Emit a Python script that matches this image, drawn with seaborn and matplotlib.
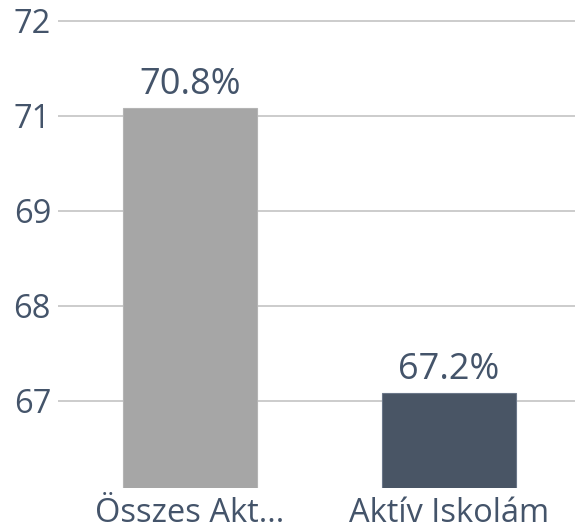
import matplotlib
matplotlib.use("Agg")
import matplotlib.pyplot as plt
import seaborn as sns
import pandas as pd

# adatok
categories = ["Összes Akt...", "Aktív Iskolám"]
values = [70.8, 67.2]
bar_colors = ["#a6a6a6", "#44546a"]
edge_colors = ["#b4b4b4", "#6b7789"]
tick_values = [67.1, 68.3, 69.5, 70.7, 71.9]
tick_labels = ["67", "68", "69", "71", "72"]

sns.set_style("white")
plt.rcParams["font.family"] = ["Open Sans", "DejaVu Sans"]
text_color = "#44546a"

df = pd.DataFrame({"cat": categories, "val": values})

fig = plt.figure(figsize=(5.75, 5.32), dpi=100)
ax = fig.add_axes([58 / 575, 44 / 532, 1 - 58 / 575, 1 - 44 / 532])

sns.barplot(data=df, x="cat", y="val", hue="cat", palette=bar_colors,
            width=0.52, legend=False, ax=ax, zorder=2)
for patch, ec in zip(ax.patches, edge_colors):
    patch.set_edgecolor(ec)
    patch.set_linewidth(0.8)

ax.set_xlim(-0.51, 1.486)
ax.set_ylim(66.0, 72.16)
ax.set_yticks(tick_values)
ax.set_yticklabels(tick_labels)
ax.yaxis.grid(True, color="#c4c4c4", linewidth=1.2, zorder=0)
ax.set_axisbelow(True)

for i, v in enumerate(values):
    ax.text(i, v + 0.06, f"{v:.1f}%", ha="center", va="bottom",
            fontsize=26, color=text_color)

ax.tick_params(axis="y", length=0, pad=5, labelsize=23.5, labelcolor=text_color)
ax.tick_params(axis="x", length=0, pad=6.5, labelsize=23.5, labelcolor=text_color)
ax.set_xlabel("")
ax.set_ylabel("")
for s in ax.spines.values():
    s.set_visible(False)

fig.savefig("out.png", dpi=100)
